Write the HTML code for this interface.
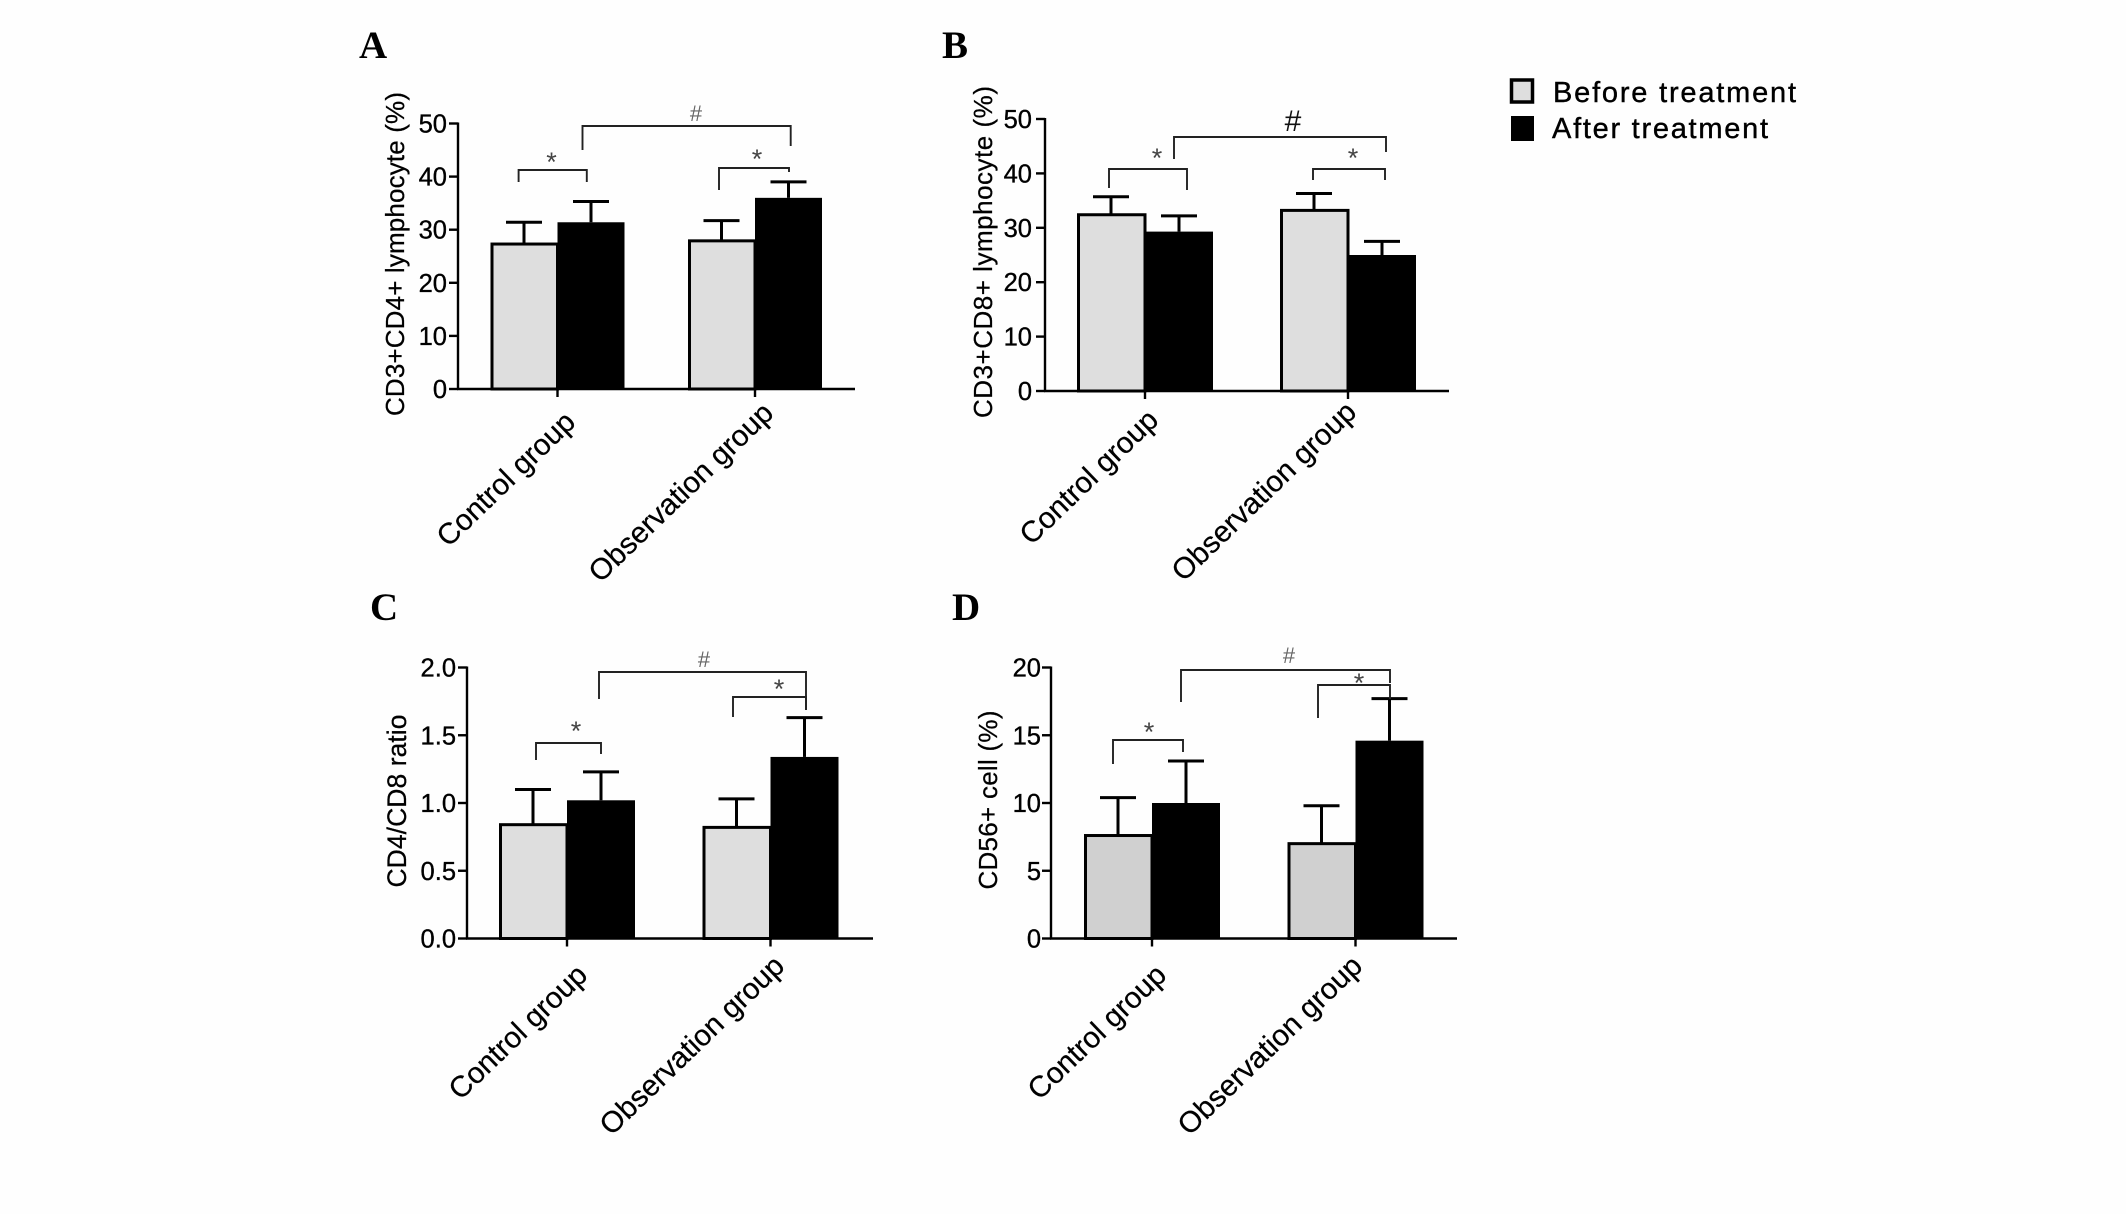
<!DOCTYPE html>
<html lang="en">
<head>
<meta charset="utf-8">
<title>Lymphocyte subsets before and after treatment</title>
<style>
html,body{margin:0;padding:0;background:#fff;}
svg{display:block;font-family:"Liberation Sans",Arial,sans-serif;}
</style>
</head>
<body>
<svg id="figure" xmlns="http://www.w3.org/2000/svg" width="2126" height="1214" viewBox="0 0 2126 1214">
  <rect width="2126" height="1214" fill="#fefefe"/>
  <g font-family="'Liberation Serif',serif" font-weight="bold" font-size="39" fill="#000">
    <text x="359" y="58">A</text>
    <text x="942" y="58">B</text>
    <text x="370" y="620">C</text>
    <text x="952" y="620">D</text>
  </g>
  <g>
    <rect x="1511.5" y="80" width="21" height="22" fill="#dedede" stroke="#000" stroke-width="3.5"/>
    <text x="1553" y="102" font-size="29" stroke="#000" stroke-width="0.4" textLength="243" lengthAdjust="spacing" fill="#000">Before treatment</text>
    <rect x="1511" y="116" width="23" height="25" fill="#000"/>
    <text x="1552" y="138" font-size="29" stroke="#000" stroke-width="0.4" textLength="216" lengthAdjust="spacing" fill="#000">After treatment</text>
  </g>
</svg>
<script>
const categories = ['Control group', 'Observation group'];

const panelATicks = ['0', '10', '20', '30', '40', '50'];
const panelABefore = [27.3, 27.9];
const panelAAfter = [31.4, 36.0];
const panelABeforeSd = [4.1, 3.8];
const panelAAfterSd = [3.9, 3.0];

const panelBTicks = ['0', '10', '20', '30', '40', '50'];
const panelBBefore = [32.4, 33.2];
const panelBAfter = [29.3, 25.0];
const panelBBeforeSd = [3.3, 3.1];
const panelBAfterSd = [2.9, 2.5];

const panelCTicks = ['0.0', '0.5', '1.0', '1.5', '2.0'];
const panelCBefore = [0.84, 0.82];
const panelCAfter = [1.02, 1.34];
const panelCBeforeSd = [0.26, 0.21];
const panelCAfterSd = [0.21, 0.29];

const panelDTicks = ['0', '5', '10', '15', '20'];
const panelDBefore = [7.6, 7.0];
const panelDAfter = [10.0, 14.6];
const panelDBeforeSd = [2.8, 2.8];
const panelDAfterSd = [3.1, 3.1];

const panels = [
  { id: 'a', title: 'CD3+CD4+ lymphocyte (%)', ticks: panelATicks, before: panelABefore, after: panelAAfter, beforeSd: panelABeforeSd, afterSd: panelAAfterSd,
    fill: '#dedede', axisX: 458, top: 123.5, bottom: 389, end: 855, start: 490.5, step: 197.5, barW: 67, tickRight: 447, titleX: 404, titleY: 254, titleLen: 324, titleSize: 26,
    catEnd: [[577, 424], [775, 415]],
    hash: { x: 696, y: 113, size: 22, fill: '#666' },
    stars: [[551.5, 155], [757, 152]],
    brackets: [[582.5, 790.7, 126, 150, 146, 'hash'], [518.6, 586.8, 170, 182, 182, 'left'], [719, 789, 168, 190, 172, 'right']] },
  { id: 'b', title: 'CD3+CD8+ lymphocyte (%)', ticks: panelBTicks, before: panelBBefore, after: panelBAfter, beforeSd: panelBBeforeSd, afterSd: panelBAfterSd,
    fill: '#dedede', axisX: 1045, top: 119, bottom: 391, end: 1449, start: 1077, step: 203, barW: 68, tickRight: 1032, titleX: 992, titleY: 252, titleLen: 332, titleSize: 26,
    catEnd: [[1160, 422], [1358, 414]],
    hash: { x: 1293, y: 120, size: 30, fill: '#111' },
    stars: [[1157, 151], [1353, 151]],
    brackets: [[1174, 1386, 137, 159, 152, 'hash'], [1109, 1187, 169, 188, 190, 'left'], [1313, 1385, 169, 180, 180, 'right']] },
  { id: 'c', title: 'CD4/CD8 ratio', ticks: panelCTicks, before: panelCBefore, after: panelCAfter, beforeSd: panelCBeforeSd, afterSd: panelCAfterSd,
    fill: '#dedede', axisX: 467, top: 667.5, bottom: 938.5, end: 873, start: 499, step: 203.5, barW: 68, tickRight: 456, titleX: 406, titleY: 801, titleLen: 173, titleSize: 26.5,
    catEnd: [[589, 977], [786, 968]],
    hash: { x: 704, y: 659, size: 22, fill: '#666' },
    stars: [[576, 724], [779, 682]],
    brackets: [[599, 806, 672, 699, 710, 'hash'], [536, 601, 743, 760, 754, 'left'], [733, 806, 697, 717, 710, 'right']] },
  { id: 'd', title: 'CD56+ cell (%)', ticks: panelDTicks, before: panelDBefore, after: panelDAfter, beforeSd: panelDBeforeSd, afterSd: panelDAfterSd,
    fill: '#d0d0d0', axisX: 1051, top: 667.5, bottom: 938.5, end: 1457, start: 1084, step: 203.5, barW: 68, tickRight: 1041, titleX: 997, titleY: 800, titleLen: 179, titleSize: 26,
    catEnd: [[1168, 977], [1364, 968]],
    hash: { x: 1289, y: 655, size: 22, fill: '#666' },
    stars: [[1149, 725], [1359, 676]],
    brackets: [[1181, 1390, 670, 702, 683, 'hash'], [1113, 1183, 740, 764, 752, 'left'], [1318, 1390, 685, 718, 699, 'right']] }
];

const NS = 'http://www.w3.org/2000/svg';
const fig = document.getElementById('figure');

function mk(tag, parent, attrs, text) {
  const el = document.createElementNS(NS, tag);
  for (const k in attrs) el.setAttribute(k, attrs[k]);
  if (text !== undefined) el.textContent = text;
  parent.appendChild(el);
  return el;
}

function drawPanel(p) {
  const maxV = parseFloat(p.ticks[p.ticks.length - 1]);
  const y = v => p.bottom - (v / maxV) * (p.bottom - p.top);
  const xBand = i => p.start + i * p.step;

  const g = mk('g', fig, {});
  
  

  // error bars
  categories.forEach((cat, i) => {
    [[p.before, p.beforeSd, 0, 'before'], [p.after, p.afterSd, 1, 'after']].forEach(s => {
      const cx = xBand(i) + (s[2] + 0.5) * p.barW;
      const topV = s[0][i] + s[1][i];
      const stem = mk('line', g, { x1: cx, x2: cx, y1: y(s[0][i]), y2: y(topV), stroke: '#000', 'stroke-width': 3 });
      
      
      const cap = mk('line', g, { x1: cx - 18, x2: cx + 18, y1: y(topV), y2: y(topV), stroke: '#000', 'stroke-width': 3 });
      
      
    });
  });

  // bars
  categories.forEach((cat, i) => {
    const b = mk('rect', g, { x: xBand(i) + 1.5, y: y(p.before[i]), width: p.barW - 1.5, height: p.bottom - y(p.before[i]), fill: p.fill, stroke: '#000', 'stroke-width': 3 });
    
    
    const a = mk('rect', g, { x: xBand(i) + p.barW, y: y(p.after[i]), width: p.barW, height: p.bottom - y(p.after[i]), fill: '#000' });
    
    
  });

  // y axis
  const ya = mk('line', g, { x1: p.axisX, x2: p.axisX, y1: p.top - 1, y2: p.bottom + 1, stroke: '#000', 'stroke-width': 2.4 });
  
  
  p.ticks.forEach(t => {
    const ty = y(parseFloat(t));
    const tm = mk('line', g, { x1: p.axisX - 9, x2: p.axisX, y1: ty, y2: ty, stroke: '#000', 'stroke-width': 2.4 });
    
    
    const tl = mk('text', g, { x: p.tickRight, y: ty + 9, 'text-anchor': 'end', 'font-size': 25.5, fill: '#000', stroke: '#000', 'stroke-width': 0.35 }, t);
    
    
  });

  // x axis
  const xa = mk('line', g, { x1: p.axisX - 1, x2: p.end, y1: p.bottom, y2: p.bottom, stroke: '#000', 'stroke-width': 2.4 });
  
  
  categories.forEach((cat, i) => {
    const tx = xBand(i) + p.barW;
    const tm = mk('line', g, { x1: tx, x2: tx, y1: p.bottom, y2: p.bottom + 8, stroke: '#000', 'stroke-width': 2.4 });
    
    
    const e = p.catEnd[i];
    const tl = mk('text', g, { x: e[0], y: e[1], 'text-anchor': 'end', 'font-size': 29.5, fill: '#000', stroke: '#000', 'stroke-width': 0.25, transform: 'rotate(-44 ' + e[0] + ' ' + e[1] + ')' }, cat);
    
    
  });

  // y title
  const title = mk('text', g, { x: p.titleX, y: p.titleY, 'text-anchor': 'middle', 'font-size': p.titleSize, fill: '#000', stroke: '#000', 'stroke-width': 0.25, textLength: p.titleLen, lengthAdjust: 'spacing', transform: 'rotate(-90 ' + p.titleX + ' ' + p.titleY + ')' }, p.title);
  
  

  // significance brackets
  p.brackets.forEach(b => {
    const path = mk('path', g, { d: 'M' + b[0] + ' ' + b[3] + 'V' + b[2] + 'H' + b[1] + 'V' + b[4], fill: 'none', stroke: '#222', 'stroke-width': 1.9 });
    
    
  });
  const hash = mk('text', g, { x: p.hash.x, y: p.hash.y + p.hash.size * 0.36, 'text-anchor': 'middle', 'font-size': p.hash.size, fill: p.hash.fill }, '#');
  
  
  p.stars.forEach(s => {
    const st = mk('text', g, { x: s[0], y: s[1] + 16, 'text-anchor': 'middle', 'font-size': 27, fill: '#444' }, '*');
    
    
  });
}

panels.forEach(drawPanel);
</script>
</body>
</html>
